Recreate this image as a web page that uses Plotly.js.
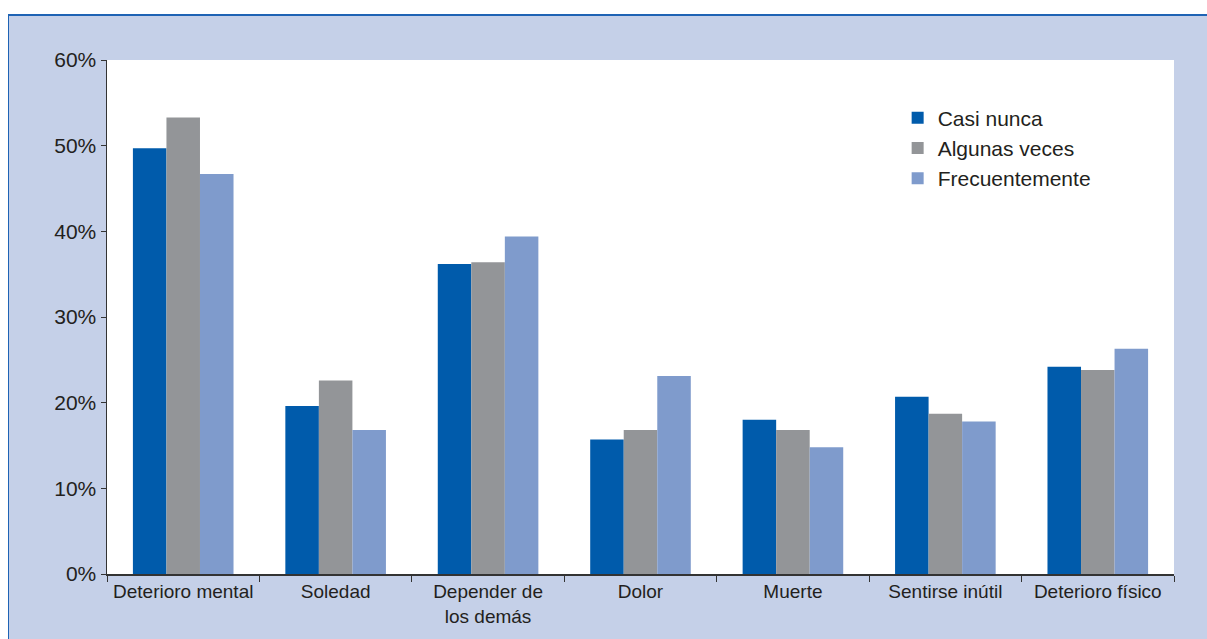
<!DOCTYPE html>
<html>
<head>
<meta charset="utf-8">
<script src="https://cdn.plot.ly/plotly-3.0.1.min.js"></script>
<style>
  html, body { margin: 0; padding: 0; background: #ffffff; width: 1207px; height: 639px; overflow: hidden; }
  #frame { position: absolute; left: 8px; top: 14px; right: 0; bottom: 0;
           background: #c5d0e8; border-top: 2px solid #1e63b4; border-left: 1px solid #1e63b4; }
  #chart { position: absolute; left: 0; top: 0; width: 1207px; height: 639px; }
</style>
</head>
<body>
<div id="frame"></div>
<div id="chart"></div>
<script>
// categorías y porcentajes
const categorias = ['Deterioro mental', 'Soledad', 'Depender de<br>los demás', 'Dolor', 'Muerte', 'Sentirse inútil', 'Deterioro físico'];
const casiNunca = [49.7, 19.6, 36.2, 15.7, 18.0, 20.7, 24.2];
const algunasVeces = [53.3, 22.6, 36.4, 16.8, 16.8, 18.7, 23.8];
const frecuentemente = [46.7, 16.8, 39.4, 23.1, 14.8, 17.8, 26.3];
const yTicks = [0, 10, 20, 30, 40, 50, 60];
const yTickText = ['0%', '10%', '20%', '30%', '40%', '50%', '60%'];

const fuente = 'Liberation Sans, Arial, sans-serif';

const data = [
    { x: categorias, y: casiNunca, name: 'Casi nunca', type: 'bar', marker: { color: '#005bab' } },
    { x: categorias, y: algunasVeces, name: 'Algunas veces', type: 'bar', marker: { color: '#939598' } },
    { x: categorias, y: frecuentemente, name: 'Frecuentemente', type: 'bar', marker: { color: '#7f9bcc' } }
];

const layout = {
    width: 1207,
    height: 639,
    paper_bgcolor: 'rgba(0,0,0,0)',
    plot_bgcolor: '#ffffff',
    margin: { l: 107, r: 33, t: 60, b: 65 },
    barmode: 'group',
    bargap: 0.34,
    bargroupgap: 0,
    font: { family: fuente, size: 19, color: '#231f20' },
    showlegend: true,
    legend: {
        x: 0.741, y: 0.927, xanchor: 'left', yanchor: 'top',
        bgcolor: 'rgba(0,0,0,0)', font: { size: 21 }, tracegroupgap: 0
    },
    xaxis: {
        showline: true, linecolor: '#333333', linewidth: 1.5,
        ticks: 'outside', tickson: 'boundaries', ticklen: 6, tickcolor: '#333333',
        showgrid: false, tickangle: 0, tickfont: { size: 19 }
    },
    yaxis: {
        range: [0, 60], tickmode: 'array', tickvals: yTicks, ticktext: yTickText,
        showline: true, linecolor: '#333333', linewidth: 1.5,
        ticks: 'outside', ticklen: 5, tickcolor: '#333333',
        showgrid: false, zeroline: false, tickfont: { size: 21 }
    }
};

Plotly.newPlot('chart', data, layout, { displayModeBar: false, staticPlot: true });
</script>
</body>
</html>
